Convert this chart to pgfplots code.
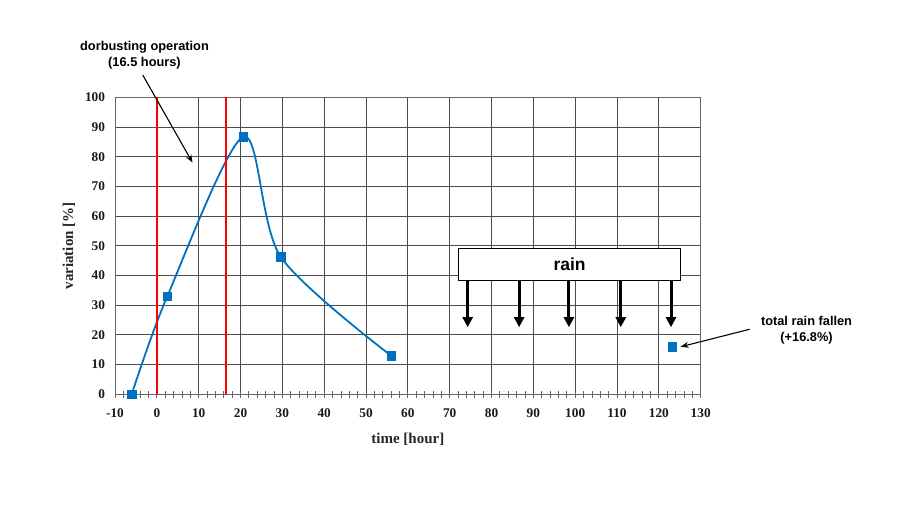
\documentclass[border=0pt]{standalone}
\usepackage{fontspec}
\setmainfont{Liberation Serif}
\newfontfamily\arialfont{Liberation Sans}
\usepackage{pgfplots}
\pgfplotsset{compat=1.18}
\usetikzlibrary{arrows.meta}
\definecolor{excelblue}{RGB}{0,112,192}
\definecolor{gridgray}{RGB}{75,75,75}
\begin{document}
\begin{tikzpicture}[x=1pt,y=1pt]
\path[use as bounding box] (0,0) rectangle (900,504);
\begin{axis}[
  at={(115pt,109.7pt)}, anchor=south west,
  width=585.7pt, height=297pt, scale only axis,
  xmin=-10, xmax=130, ymin=0, ymax=100,
  xtick={-10,0,...,130}, ytick={0,10,...,100},
  minor x tick num=4,
  xtick pos=bottom, ytick pos=left,
  grid=major,
  major grid style={gridgray, line width=0.9pt},
  axis line style={black!60, line width=1pt},
  x tick style={black!60, line width=0.8pt},
  y tick style={draw=none},
  minor x tick style={black!60, line width=0.8pt},
  tick align=center,
  major tick length=7pt, minor tick length=7pt,
  /pgf/number format/assume math mode=true,
  tick label style={font=\fontsize{13.3}{15}\selectfont\bfseries, text=black!90},
  xticklabel style={yshift=-7pt},
  yticklabel style={xshift=-3pt},
  xlabel={time [hour]}, ylabel={variation [\%]},
  label style={font=\fontsize{15}{17}\selectfont\bfseries, text=black!85},
  xlabel style={at={(axis description cs:0.5,-0.1515)}, anchor=center},
  ylabel style={at={(axis description cs:-0.0785,0.5)}, anchor=center},
  clip=false,
]
\addplot[excelblue, line width=1.8pt, smooth, mark=square*, mark size=4.2pt,
  mark options={fill=excelblue, draw=excelblue, line width=0.5pt}]
  coordinates {(-6,0) (2.5,33) (20.7,86.7) (29.6,46.3) (56,13)};
\addplot[red, line width=2.2pt] coordinates {(0,0) (0,100)};
\addplot[red, line width=2.2pt] coordinates {(16.5,0) (16.5,100)};
\addplot[only marks, mark=square*, mark size=4.2pt,
  mark options={fill=excelblue, draw=excelblue, line width=0.5pt}]
  coordinates {(123.2,16)};
% rain box
\draw[black, line width=0.8pt, fill=white] (axis cs:72.2,38.2) rectangle (axis cs:125.1,49.2);
\node[font=\arialfont\bfseries\fontsize{17.5}{20}\selectfont] at (axis cs:98.65,43.7) {rain};
\pgfplotsinvokeforeach{74.3,86.6,98.5,110.9,122.9}{
  \draw[line width=3pt, -{Triangle[width=10pt,length=10pt]}] (axis cs:#1,38.2) -- (axis cs:#1,22.6);
}
% annotations
\node[font=\arialfont\bfseries\fontsize{12.8}{16}\selectfont, align=center] at (axis cs:-2.95,114.3) {dorbusting operation\\(16.5 hours)};
\draw[line width=1.1pt, -{Stealth[width=6pt,length=8pt]}] (axis cs:-3.36,107.5) -- (axis cs:8.53,78.0);
\node[font=\arialfont\bfseries\fontsize{12.8}{16}\selectfont, align=center] at (axis cs:155.3,21.5) {total rain fallen\\(+16.8\%)};
\draw[line width=1.1pt, -{Stealth[width=6pt,length=8pt]}] (axis cs:141.7,21.9) -- (axis cs:125.2,16.0);
\end{axis}
\end{tikzpicture}
\end{document}
